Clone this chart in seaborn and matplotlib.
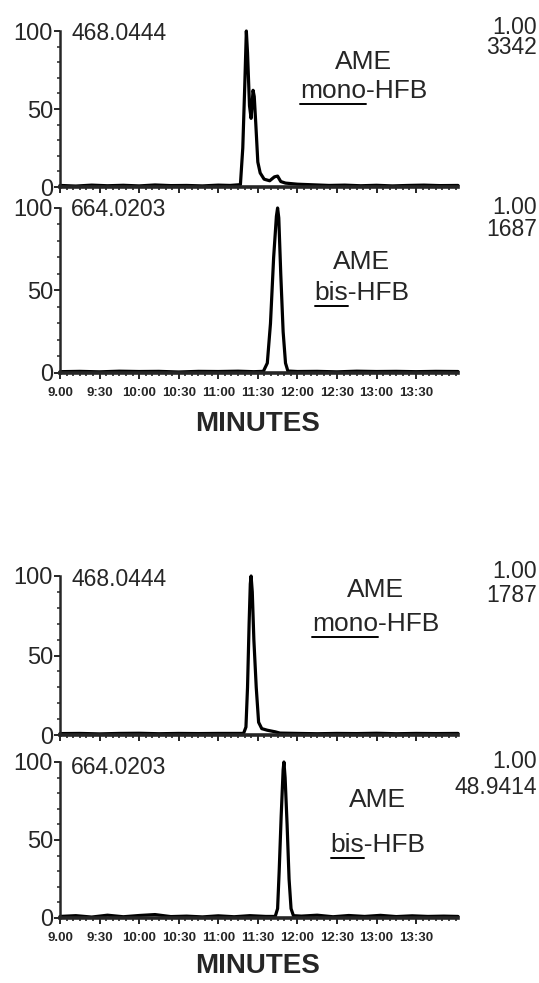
import matplotlib
matplotlib.use("Agg")
import matplotlib.pyplot as plt
import pandas as pd
import seaborn as sns
from matplotlib.lines import Line2D
from matplotlib.ticker import FixedLocator, MultipleLocator

# retention time (decimal hours) / relative intensity (%)
rt_a_mono = [9.00, 9.20, 9.40, 9.60, 9.80, 10.00, 10.20, 10.40, 10.60, 10.80, 11.00, 11.15,
             11.28, 11.31, 11.335, 11.355, 11.37, 11.395, 11.415, 11.44, 11.455, 11.475,
             11.50, 11.53, 11.58, 11.65, 11.71, 11.75, 11.79, 11.85, 12.00, 12.20, 12.40,
             12.60, 12.80, 13.00, 13.20, 13.40, 13.60, 13.80, 14.03]
int_a_mono = [1.0, 0.6, 1.2, 0.8, 1.1, 0.7, 1.3, 0.9, 1.0, 0.7, 1.2, 1.0,
              1.5, 25, 65, 100, 86, 52, 44, 62, 58, 40,
              16, 9, 5, 4, 6.5, 7, 3.5, 2.5, 1.8, 1.4, 1.0,
              1.2, 0.8, 1.1, 0.7, 1.0, 1.2, 0.9, 1.0]

rt_a_bis = [9.00, 9.25, 9.50, 9.75, 10.00, 10.25, 10.50, 10.75, 11.00, 11.25, 11.45,
            11.57, 11.62, 11.66, 11.70, 11.735, 11.75, 11.765, 11.79, 11.82, 11.85, 11.88,
            12.00, 12.25, 12.50, 12.75, 13.00, 13.25, 13.50, 13.75, 14.03]
int_a_bis = [0.8, 1.0, 0.7, 1.1, 0.9, 1.0, 0.6, 1.0, 0.9, 1.1, 0.8,
             1.0, 6, 30, 70, 95, 100, 94, 60, 25, 6, 1.2,
             0.9, 1.0, 0.7, 1.1, 0.9, 1.0, 0.8, 1.0, 0.9]

rt_b_mono = [9.00, 9.25, 9.50, 9.75, 10.00, 10.25, 10.50, 10.75, 11.00, 11.20,
             11.32, 11.35, 11.37, 11.39, 11.405, 11.415, 11.43, 11.45, 11.48, 11.51,
             11.55, 11.62, 11.72, 11.78, 12.00, 12.25, 12.50, 12.75, 13.00, 13.25,
             13.50, 13.75, 14.03]
int_b_mono = [0.9, 1.0, 0.7, 1.0, 1.1, 0.8, 1.0, 0.9, 1.0, 1.0,
              1.0, 5, 30, 70, 95, 100, 90, 60, 30, 8,
              4, 3, 2, 1.2, 1.0, 0.8, 1.0, 0.9, 1.1, 0.8,
              1.0, 0.9, 1.0]

rt_b_bis = [9.00, 9.20, 9.40, 9.60, 9.80, 10.00, 10.20, 10.40, 10.60, 10.80, 11.00,
            11.20, 11.40, 11.60, 11.72, 11.75, 11.77, 11.795, 11.82, 11.83, 11.845,
            11.87, 11.895, 11.92, 11.95, 12.05, 12.25, 12.45, 12.65, 12.85, 13.05,
            13.25, 13.45, 13.65, 13.85, 14.03]
int_b_bis = [1.0, 1.5, 0.6, 1.8, 0.8, 1.6, 2.2, 0.9, 1.2, 0.7, 1.4,
             0.8, 1.5, 1.0, 1.0, 6, 30, 65, 95, 100, 90,
             60, 25, 6, 1.5, 1.2, 1.8, 0.8, 1.6, 1.0, 1.7,
             0.9, 1.4, 1.0, 1.2, 1.0]

ion_labels = ["468.0444", "664.0203", "468.0444", "664.0203"]
compound = ["AME", "AME", "AME", "AME"]
deriv_prefix = ["mono", "bis", "mono", "bis"]
scale_factor = ["1.00", "1.00", "1.00", "1.00"]
base_counts = ["3342", "1687", "1787", "48.9414"]

xtick_pos = [9.0, 9.5, 10.0, 10.5, 11.0, 11.5, 12.0, 12.5, 13.0, 13.5]
xtick_labels = ["9.00", "9:30", "10:00", "10:30", "11:00", "11:30", "12:00", "12:30", "13:00", "13:30"]
ytick_pos = [0, 50, 100]

traces = [(rt_a_mono, int_a_mono), (rt_a_bis, int_a_bis),
          (rt_b_mono, int_b_mono), (rt_b_bis, int_b_bis)]

# layout in pixels of the 539x983 page
W, H = 539, 983
X_LEFT, X_RIGHT = 60, 458
panel_y = [(31, 187), (208, 373), (576, 735), (762, 918)]
name_xy = [(364, 62), (362, 262), (376, 590), (378, 800)]
deriv_xy = [(364, 91), (362, 293), (376, 624), (378, 845)]
ion_y = [34, 209, 579, 767]
scale_y = [(27, 48), (207, 229), (571, 595), (762, 788)]
minutes_y = [424, 966]

sns.set_theme(style="white")
plt.rcParams["font.family"] = ["Liberation Sans", "DejaVu Sans"]

fig = plt.figure(figsize=(W / 100, H / 100), dpi=100)


def fx(x):
    return x / W


def fy(y):
    return 1 - y / H


axes = []
for i, ((rt, inten), (ytop, ybot)) in enumerate(zip(traces, panel_y)):
    ax = fig.add_axes([fx(X_LEFT), fy(ybot), fx(X_RIGHT - X_LEFT), (ybot - ytop) / H])
    df = pd.DataFrame({"rt": rt, "intensity": inten})
    sns.lineplot(data=df, x="rt", y="intensity", ax=ax, color="black", lw=2.3,
                 estimator=None, sort=False, clip_on=False)
    ax.set_xlim(9.0, 14.03)
    ax.set_ylim(0, 100)
    ax.set_xlabel("")
    ax.set_ylabel("")
    for s in ["top", "right"]:
        ax.spines[s].set_visible(False)
    ax.spines["bottom"].set_linewidth(2.6)
    ax.spines["left"].set_linewidth(1.8)
    ax.xaxis.set_major_locator(FixedLocator(xtick_pos))
    ax.xaxis.set_minor_locator(MultipleLocator(1 / 12))
    ax.yaxis.set_major_locator(FixedLocator(ytick_pos))
    ax.yaxis.set_minor_locator(MultipleLocator(10))
    ax.tick_params(axis="x", which="major", direction="out", length=4, width=1.4,
                   bottom=True, pad=6)
    ax.tick_params(axis="x", which="minor", direction="out", length=2.5, width=1.2, bottom=True)
    ax.tick_params(axis="y", which="major", direction="out", length=4, width=1.4,
                   left=True, labelsize=17, pad=1)
    ax.tick_params(axis="y", which="minor", direction="out", length=2, width=1.1, left=True)
    ax.set_yticklabels([str(v) for v in ytick_pos])
    if i % 2 == 1:
        ax.set_xticklabels(xtick_labels, fontsize=9.5, fontweight="bold")
    else:
        ax.set_xticklabels([])
    ax.grid(False)
    axes.append(ax)

    fig.text(fx(71), fy(ion_y[i]), ion_labels[i], fontsize=16.5, ha="left", va="center")
    fig.text(fx(537), fy(scale_y[i][0]), scale_factor[i], fontsize=16.5, ha="right", va="center")
    fig.text(fx(537), fy(scale_y[i][1]), base_counts[i], fontsize=16.5, ha="right", va="center")
    fig.text(fx(name_xy[i][0]), fy(name_xy[i][1]), compound[i], fontsize=19,
             ha="center", va="center")

for y in minutes_y:
    fig.text(fx((X_LEFT + X_RIGHT) / 2 - 1), fy(y), "MINUTES", fontsize=20,
             fontweight="bold", ha="center", va="center")

# derivative names with the prefix underlined
fig.canvas.draw()
renderer = fig.canvas.get_renderer()
for i in range(4):
    full = fig.text(fx(deriv_xy[i][0]), fy(deriv_xy[i][1]), deriv_prefix[i] + "-HFB",
                    fontsize=19, ha="center", va="center")
    probe = fig.text(0, 0, deriv_prefix[i], fontsize=19)
    bb = full.get_window_extent(renderer)
    w = probe.get_window_extent(renderer).width
    probe.remove()
    y_line = bb.y0 - 1
    fig.add_artist(Line2D([bb.x0 / W, (bb.x0 + w) / W], [y_line / H, y_line / H],
                          transform=fig.transFigure, color="black", lw=1.4))

fig.savefig("out.png", dpi=100, facecolor="white")
